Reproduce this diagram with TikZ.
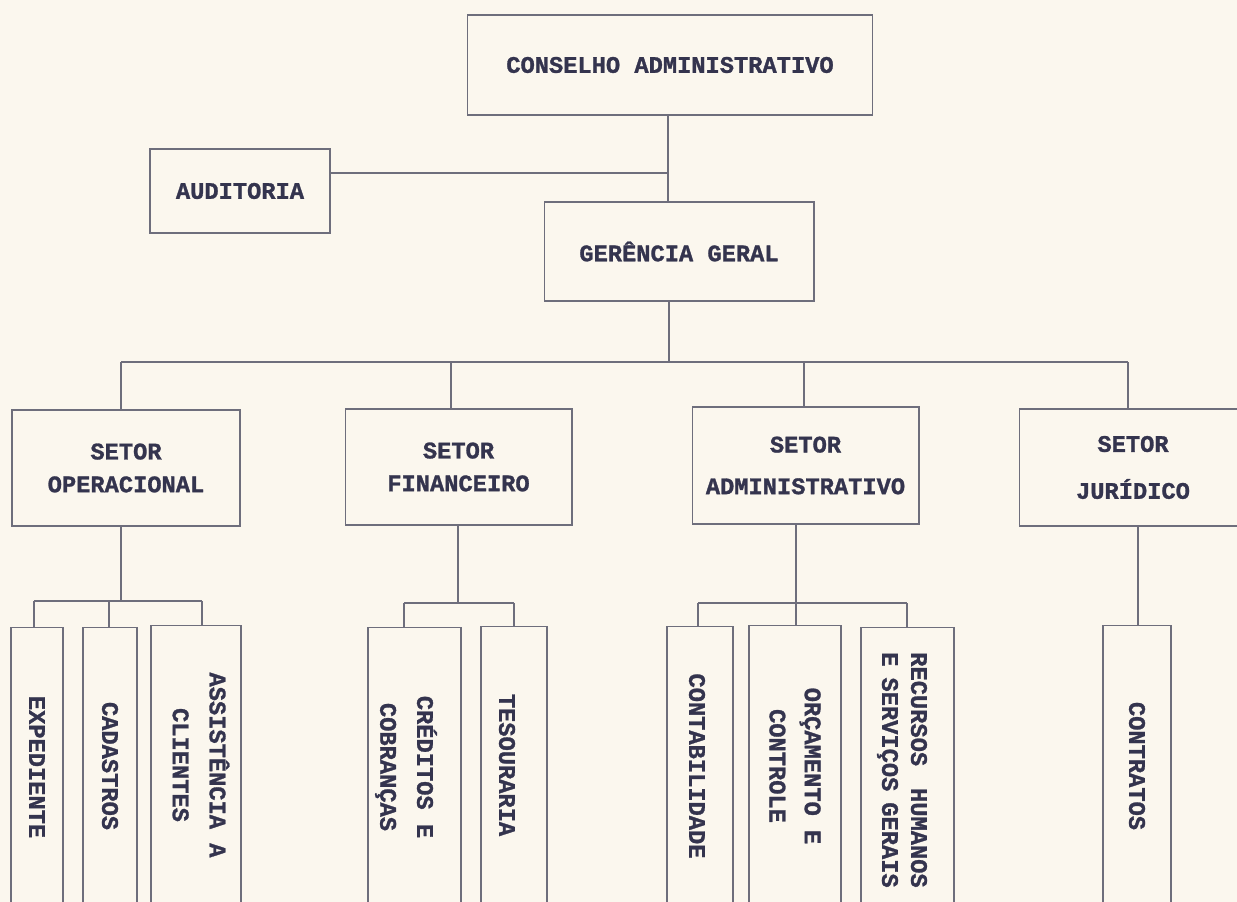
\documentclass[tikz,border=0pt]{standalone}
\usepackage{fontspec}
\setmainfont{Liberation Mono}[BoldFeatures={FakeBold=1.2}]
\definecolor{bg}{HTML}{FBF7EE}
\definecolor{ln}{HTML}{6E6E7C}
\definecolor{tx}{HTML}{34344E}
\newcommand{\orgfont}{\bfseries}
\tikzset{
  box/.style={draw=ln, line width=0.6pt, rectangle, inner sep=0pt, text=tx, align=center,
    font=\fontsize{13.5}{18.7}\selectfont\orgfont},
  lbl/.style={text=tx, align=center, inner sep=0pt,
    font=\fontsize{13.5}{21}\selectfont\orgfont},
  vlbl/.style={lbl, rotate=-90},
  conn/.style={draw=ln, line width=0.6pt}
}
\begin{document}
\begin{tikzpicture}[x=0.02cm, y=-0.02cm]
\fill[bg] (0,0) rectangle (1237,902);
\useasboundingbox (0,0) rectangle (1237,902);

% top levels
\node[box, minimum width=8.12cm, minimum height=2.0cm] (cons) at (670,65) {CONSELHO ADMINISTRATIVO};
\node[box, minimum width=3.6cm, minimum height=1.68cm] (aud) at (240,191) {AUDITORIA};
\node[box, minimum width=5.4cm, minimum height=1.98cm] (ger) at (679,251.5) {GERÊNCIA GERAL};

% sectors
\node[box, minimum width=4.56cm, minimum height=2.32cm] (op) at (126,468) {SETOR\\OPERACIONAL};
\node[box, minimum width=4.54cm, minimum height=2.32cm] (fin) at (458.5,467) {SETOR\\FINANCEIRO};
\node[box, minimum width=4.54cm, minimum height=2.34cm] (adm) at (805.5,465.5) {SETOR\\[5pt]ADMINISTRATIVO};
\node[box, minimum width=4.56cm, minimum height=2.34cm] (jur) at (1133,467.5) {SETOR\\[8pt]JURÍDICO};

% leaf boxes (run past the bottom edge)
\node[box, minimum width=1.04cm, minimum height=5.7cm] (exp) at (37,769.5) {};
\node[box, minimum width=1.08cm, minimum height=5.7cm] (cad) at (110,769.5) {};
\node[box, minimum width=1.80cm, minimum height=5.74cm] (ass) at (196,768.5) {};
\node[box, minimum width=1.86cm, minimum height=5.7cm] (cre) at (414.5,769.5) {};
\node[box, minimum width=1.32cm, minimum height=5.72cm] (tes) at (514,769) {};
\node[box, minimum width=1.32cm, minimum height=5.72cm] (con) at (700,769) {};
\node[box, minimum width=1.84cm, minimum height=5.74cm] (orc) at (795,768.5) {};
\node[box, minimum width=1.86cm, minimum height=5.7cm] (rec) at (907.5,769.5) {};
\node[box, minimum width=1.36cm, minimum height=5.74cm] (ctr) at (1137,768.5) {};

% leaf labels
\node[vlbl] (lexp) at (37,767) {EXPEDIENTE};
\node[vlbl] (lcad) at (110,766) {CADASTROS};
\node[vlbl] (lass) at (201,765) {ASSISTÊNCIA A\\CLIENTES};
\node[vlbl] (lcre) at (406,767) {CRÉDITOS E\\COBRANÇAS};
\node[vlbl] (ltes) at (507,765) {TESOURARIA};
\node[vlbl] (lcon) at (697,766) {CONTABILIDADE};
\node[vlbl] (lorc) at (795,766) {ORÇAMENTO E\\[-1pt]CONTROLE};
\node[vlbl, font=\fontsize{13.5}{16.5}\selectfont\orgfont] (lrec) at (902,770)
  {\makebox[134pt]{RECURSOS\hfill HUMANOS}\\\makebox[134pt]{E\hfill SERVIÇOS\hfill GERAIS}};
\node[vlbl] (lctr) at (1137,766) {CONTRATOS};

% junction coordinates
\coordinate (jA) at (668,173);
\coordinate (jB) at (669,362);
\coordinate (jOp) at (121,601);
\coordinate (jFin) at (458,603);
\coordinate (jAdm) at (796,603);

% connectors: top
\draw[conn] (jA |- cons.south) -- (jA |- ger.north);
\draw[conn] (jA) -- (jA -| aud.east);
% gerencia to bus
\draw[conn] (jB |- ger.south) -- (jB);
\draw[conn] (121,362) -- (1128,362);
\draw[conn] (121,362) -- (121,0 |- op.north);
\draw[conn] (451,362) -- (451,0 |- fin.north);
\draw[conn] (804,362) -- (804,0 |- adm.north);
\draw[conn] (1128,362) -- (1128,0 |- jur.north);

% operacional
\draw[conn] (jOp |- op.south) -- (jOp);
\draw[conn] (34,601) -- (202,601);
\draw[conn] (34,601) -- (34,0 |- exp.north);
\draw[conn] (109,601) -- (109,0 |- cad.north);
\draw[conn] (202,601) -- (202,0 |- ass.north);

% financeiro
\draw[conn] (jFin |- fin.south) -- (jFin);
\draw[conn] (404,603) -- (514,603);
\draw[conn] (404,603) -- (404,0 |- cre.north);
\draw[conn] (514,603) -- (514,0 |- tes.north);

% administrativo
\draw[conn] (jAdm |- adm.south) -- (jAdm);
\draw[conn] (698,603) -- (907,603);
\draw[conn] (698,603) -- (698,0 |- con.north);
\draw[conn] (jAdm) -- (jAdm |- orc.north);
\draw[conn] (907,603) -- (907,0 |- rec.north);

% juridico
\draw[conn] (1138,0 |- jur.south) -- (1138,0 |- ctr.north);
\end{tikzpicture}
\end{document}
